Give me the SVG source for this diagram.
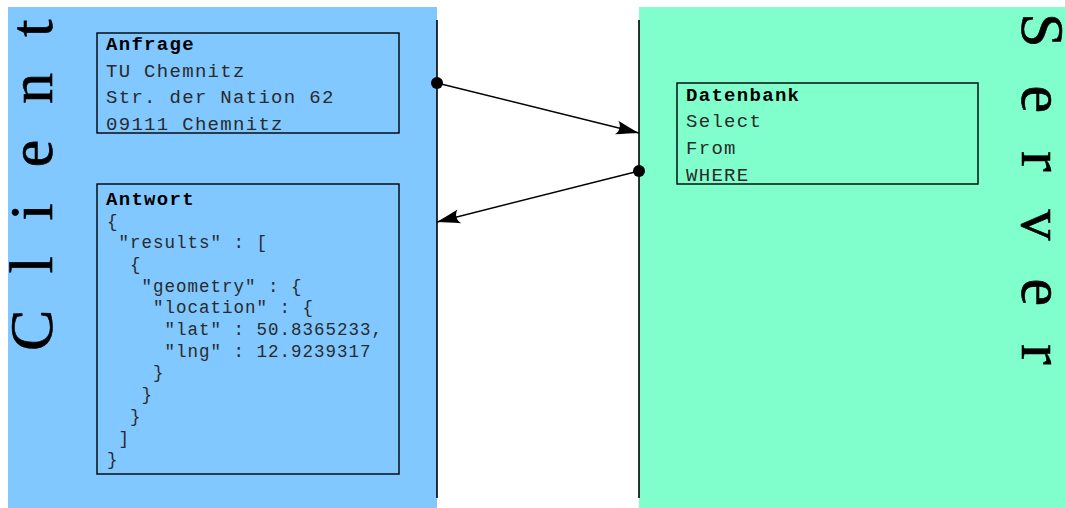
<svg xmlns="http://www.w3.org/2000/svg" width="1065" height="508" viewBox="0 0 1065 508">
<style>
.mono{font-family:"Liberation Mono","Courier New",monospace;fill:#2a2a2a}
.t{font-size:19px;letter-spacing:1.3px}
.j{font-size:17.5px;letter-spacing:1px}
.b{font-weight:bold;fill:#000}
.box{fill:none;stroke:#000;stroke-width:1.4}
.side{font-family:"Liberation Serif","Times New Roman",serif;font-size:62px;fill:#000;stroke:#000;stroke-width:0.6}
.conn{stroke:#000;stroke-width:1.4;fill:none}
</style>
<defs>
<marker id="ah" markerUnits="userSpaceOnUse" markerWidth="30" markerHeight="20" viewBox="-24 -10 26 20" refX="0" refY="0" orient="auto">
<path d="M0,0 C-7,-2 -15,-4.5 -23,-7 C-19,-3 -19,3 -23,7 C-15,4.5 -7,2 0,0 Z" fill="#000"/>
</marker>
</defs>
<g id="client">
<rect x="8" y="7" width="429" height="501" fill="#80c8ff"/>
<line x1="437" y1="20" x2="437" y2="498" stroke="#000" stroke-width="1.6"/>
<text class="side" transform="translate(52,351) rotate(-90)" x="0 77.4 130.6 183.8 247.3 314.3" y="0">Client</text>
</g>
<g id="server">
<rect x="639" y="7" width="426" height="501" fill="#80ffcc"/>
<line x1="639" y1="20" x2="639" y2="498" stroke="#000" stroke-width="1.6"/>
<text class="side" transform="translate(1022,13) rotate(90)" x="0 72.5 138 196.6 265.6 331.1" y="0">Server</text>
</g>
<g id="anfrage">
<rect class="box" x="97" y="33" width="302" height="100"/>
<text class="mono t b" x="106" y="50">Anfrage</text>
<text class="mono t" x="106" y="76.7">TU Chemnitz</text>
<text class="mono t" x="106" y="103.3">Str. der Nation 62</text>
<text class="mono t" x="106" y="130">09111 Chemnitz</text>
</g>
<g id="antwort">
<rect class="box" x="97" y="184" width="302" height="290"/>
<text class="mono t b" x="106" y="205">Antwort</text>
<text class="mono j" x="107" y="226.5">{</text>
<text class="mono j" x="118.5" y="248.2">"results" : [</text>
<text class="mono j" x="130" y="269.9">{</text>
<text class="mono j" x="141.5" y="291.6">"geometry" : {</text>
<text class="mono j" x="153" y="313.3">"location" : {</text>
<text class="mono j" x="164.5" y="335">"lat" : 50.8365233,</text>
<text class="mono j" x="164.5" y="356.7">"lng" : 12.9239317</text>
<text class="mono j" x="153" y="378.4">}</text>
<text class="mono j" x="141.5" y="400.1">}</text>
<text class="mono j" x="130" y="421.8">}</text>
<text class="mono j" x="118.5" y="443.5">]</text>
<text class="mono j" x="107" y="465.2">}</text>
</g>
<g id="datenbank">
<rect class="box" x="677" y="83" width="301" height="101"/>
<text class="mono t b" x="686" y="100.5">Datenbank</text>
<text class="mono t" x="686" y="127.3">Select</text>
<text class="mono t" x="686" y="154">From</text>
<text class="mono t" x="686" y="180.5">WHERE</text>
</g>
<g id="connectors">
<line class="conn" x1="437" y1="83" x2="639" y2="133" marker-end="url(#ah)"/>
<circle cx="437" cy="83" r="6" fill="#000"/>
<line class="conn" x1="639" y1="171" x2="437" y2="222" marker-end="url(#ah)"/>
<circle cx="639" cy="171" r="6" fill="#000"/>
</g>
</svg>
